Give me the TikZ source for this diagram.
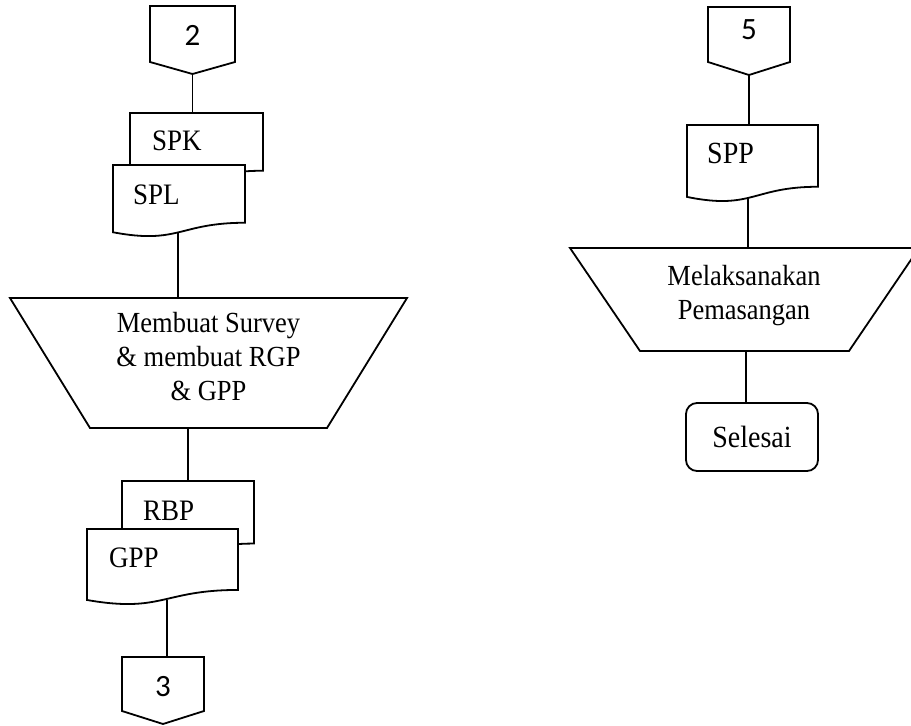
\documentclass[tikz,border=0pt]{standalone}
\usepackage{graphicx}
\usepackage{fontspec}
\setmainfont{Liberation Serif}
\newfontfamily\digitfont{Carlito}

% slightly tall lettering
\newcommand{\tall}[1]{\scalebox{1}[1.1]{#1}}

% document symbol: name, left, right, top, height
\newcommand{\docsym}[5]{%
  \draw[shapeline] (#2,#4) -- (#3,#4) -- (#3,{#4+0.802*#5})
    .. controls ({(#2+#3)/2},{#4+0.802*#5}) and ({(#2+#3)/2},{#4+1.1075*#5})
    .. (#2,{#4+0.934*#5}) -- cycle;
  \coordinate (#1-top) at ({(#2+#3)/2},#4);}

% off-page connector: name, left, right, top, side bottom, tip
\newcommand{\offpage}[6]{%
  \draw[shapeline] (#2,#4) -- (#3,#4) -- (#3,#5) -- ({(#2+#3)/2},#6) -- (#2,#5) -- cycle;
  \coordinate (#1-top) at ({(#2+#3)/2},#4);
  \coordinate (#1-tip) at ({(#2+#3)/2},#6);}

\begin{document}
\begin{tikzpicture}[x=1pt,y=-1pt,
  shapeline/.style={draw=black,line width=1.8pt,fill=white,line join=miter},
  link/.style={draw=black,line width=1.2pt},
  doclabel/.style={inner sep=0pt,anchor=base west,font=\fontsize{27}{30}\selectfont},
  digit/.style={inner sep=0pt,font=\digitfont\fontsize{31}{36}\selectfont},
  proc/.style={inner sep=0pt,font=\fontsize{26.5}{31}\selectfont},
  endbox/.style={draw=black,line width=1.8pt,rounded corners=11pt,fill=white,
    minimum width=132pt,minimum height=68pt,inner sep=0pt,
    font=\fontsize{28}{32}\selectfont}]
\useasboundingbox (0,0) rectangle (911,726);
\fill[white] (0,0) rectangle (911,726);

% ---------- left column ----------
\offpage{c2}{150}{235}{6}{62}{74}
\node[digit] (n2) at (192.5,35) {2};

\docsym{spkdoc}{130}{263}{113}{72}
\node[doclabel] (spk) at (152,150) {\tall{SPK}};
\docsym{spldoc}{113}{245}{165}{72}
\node[doclabel] (spl) at (133,204) {\tall{SPL}};
\coordinate (spl-bot) at (178,232);

\draw[shapeline] (10,298) -- (407,298) -- (327,428) -- (90,428) -- cycle;
\coordinate (t1-top) at (178,298);
\coordinate (t1-bot) at (188,428);
\node[proc] (survey) at (208.5,360)
  {\tall{\begin{tabular}{@{}c@{}}Membuat Survey\\ \& membuat RGP\\ \& GPP\end{tabular}}};

\docsym{rbpdoc}{122}{254}{481}{78}
\node[doclabel] (rbp) at (143,520) {\tall{RBP}};
\docsym{gppdoc}{87}{238}{529}{76}
\node[doclabel] (gpp) at (109,567) {\tall{GPP}};
\coordinate (gpp-bot) at (167,600);

\offpage{c3}{122}{204}{657}{711}{724}
\node[digit] (n3) at (163,687) {3};

% ---------- right column ----------
\offpage{c5}{708}{790}{7}{62}{75}
\node[digit] (n5) at (749,30) {5};

\docsym{sppdoc}{687}{818}{125}{77}
\node[doclabel,font=\fontsize{28}{30}\selectfont] (spp) at (707,163) {\tall{SPP}};
\coordinate (spp-bot) at (748,197);

\draw[shapeline] (570,248) -- (919,248) -- (849,351) -- (640,351) -- cycle;
\coordinate (t2-top) at (748,248);
\coordinate (t2-bot) at (746,351);
\node[proc] (pasang) at (744,296)
  {\tall{\begin{tabular}{@{}c@{}}Melaksanakan\\ Pemasangan\end{tabular}}};

\node[endbox] (selesai) at (752,437) {\tall{Selesai}};

% ---------- connectors ----------
\draw[link] (c2-tip) -- (c2-tip |- spkdoc-top);
\draw[link] (spl-bot) -- (t1-top);
\draw[link] (t1-bot) -- (t1-bot |- rbpdoc-top);
\draw[link] (gpp-bot) -- (gpp-bot |- c3-top);
\draw[link] (c5-tip) -- (c5-tip |- sppdoc-top);
\draw[link] (spp-bot) -- (t2-top);
\draw[link] (t2-bot) -- (t2-bot |- selesai.north);
\end{tikzpicture}
\end{document}
